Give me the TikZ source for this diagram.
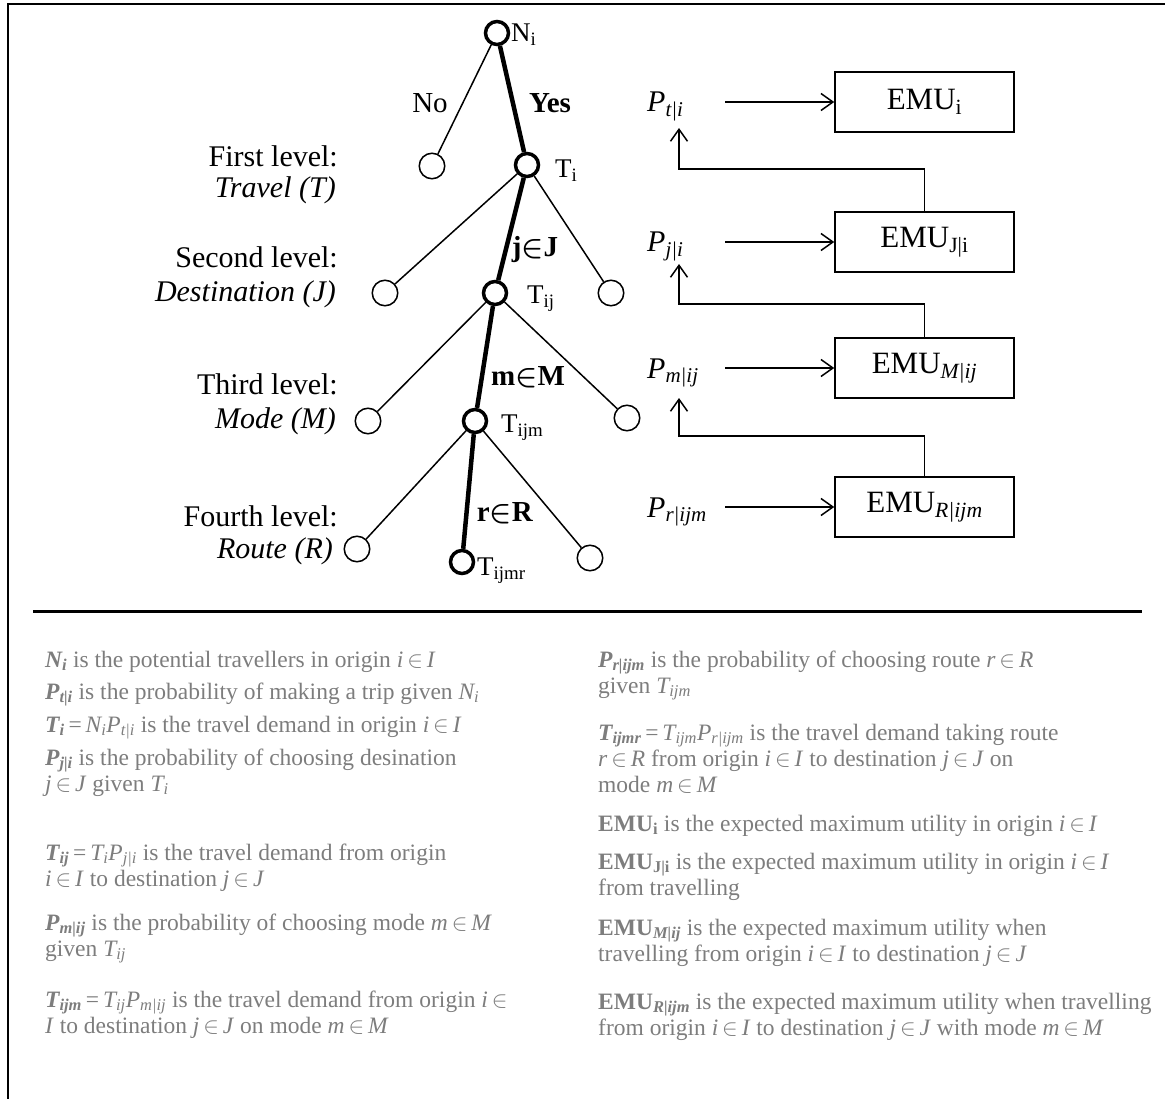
\RequirePackage{fix-cm}
\documentclass[tikz,border=0pt]{standalone}
\usepackage{fontspec}
\setmainfont{Liberation Serif}
\usetikzlibrary{arrows.meta}

\definecolor{legendgray}{RGB}{125,125,125}
\newcommand{\bi}[1]{\textbf{\textit{#1}}}
\newcommand{\sbs}[1]{\textsubscript{#1}}
\newcommand{\elt}{\,$\in$\,}

\begin{document}
\begin{tikzpicture}[x=1pt,y=-1pt,
  hub/.style={circle,draw,fill=white,line width=3.5pt,minimum size=23pt,inner sep=0pt},
  leaf/.style={circle,draw,fill=white,line width=1.5pt,minimum size=25.5pt,inner sep=0pt},
  mainedge/.style={line width=4.5pt},
  sideedge/.style={line width=1.5pt},
  tag/.style={inner sep=0pt,font=\fontsize{27}{30}\selectfont},
  branch/.style={inner sep=0pt,font=\fontsize{29}{32}\selectfont},
  lvl/.style={inner sep=0pt,anchor=base east,font=\fontsize{30}{34}\selectfont},
  emubox/.style={draw,line width=1.5pt,minimum width=179pt,minimum height=60pt,inner sep=0pt,font=\fontsize{31}{34}\selectfont},
  plabel/.style={inner sep=0pt,anchor=base west,font=\fontsize{30}{34}\selectfont},
  feed/.style={line width=1.5pt,-{Straight Barb[length=12pt,width=17pt]}},
  legend/.style={inner sep=0pt,anchor=base west,align=left,text=legendgray,font=\fontsize{23.5}{26}\selectfont}
]
\useasboundingbox (0,0) rectangle (1165,1099);

% frame and separator
\draw[line width=2.7pt] (8,1099) -- (8,4) -- (1165,4);
\draw[line width=3pt] (33,611) -- (1142,611);

% tree nodes
\node[hub]  (Ni)    at (497,33)  {};
\node[hub]  (Ti)    at (527,165) {};
\node[leaf] (no)    at (432,166) {};
\node[hub]  (Tij)   at (495,293) {};
\node[leaf] (jl)    at (385,293) {};
\node[leaf] (jr)    at (611,293) {};
\node[hub]  (Tijm)  at (475,421) {};
\node[leaf] (ml)    at (368,421) {};
\node[leaf] (mr)    at (627,418) {};
\node[hub]  (Tijmr) at (462,562) {};
\node[leaf] (rl)    at (357,549) {};
\node[leaf] (rr)    at (590,558) {};

% tree branches
\draw[sideedge] (Ni) -- (no);
\draw[mainedge] (Ni) -- (Ti);
\draw[sideedge] (Ti) -- (jl);
\draw[mainedge] (Ti) -- (Tij);
\draw[sideedge] (Ti) -- (jr);
\draw[sideedge] (Tij) -- (ml);
\draw[mainedge] (Tij) -- (Tijm);
\draw[sideedge] (Tij) -- (mr);
\draw[sideedge] (Tijm) -- (rl);
\draw[mainedge] (Tijm) -- (Tijmr);
\draw[sideedge] (Tijm) -- (rr);

% node names
\node[tag,anchor=west] (nNi)    at (511,35)  {N\sbs{i}};
\node[tag,anchor=west] (nTi)    at (555,171) {T\sbs{i}};
\node[tag,anchor=west] (nTij)   at (527,299) {T\sbs{ij}};
\node[tag,anchor=west] (nTijm)  at (501,428) {T\sbs{ijm}};
\node[tag,anchor=west] (nTijmr) at (477,571) {T\sbs{ijmr}};

% branch labels
\node[branch] (lno)  at (430,103) {No};
\node[branch] (lyes) at (550,103) {\textbf{Yes}};
\node[branch] (lj)   at (535,250) {\textbf{j}{\boldmath$\in$}\textbf{J}};
\node[branch] (lm)   at (528,377) {\textbf{m}{\boldmath$\in$}\textbf{M}};
\node[branch] (lr)   at (505,513) {\textbf{r}{\boldmath$\in$}\textbf{R}};

% level captions
\node[lvl] (c1a) at (338,167) {First level:};
\node[lvl] (c1b) at (336,198) {\textit{Travel (T)}};
\node[lvl] (c2a) at (338,268) {Second level:};
\node[lvl] (c2b) at (336,302) {\textit{Destination (J)}};
\node[lvl] (c3a) at (338,395) {Third level:};
\node[lvl] (c3b) at (336,428) {\textit{Mode (M)}};
\node[lvl] (c4a) at (338,526) {Fourth level:};
\node[lvl] (c4b) at (333,558) {\textit{Route (R)}};

% expected maximum utility boxes
\node[emubox] (emuI) at (924.5,102) {EMU\sbs{i}};
\node[emubox] (emuJ) at (924.5,242) {EMU\sbs{J|i}};
\node[emubox] (emuM) at (924.5,368) {EMU\sbs{\textit{M|ij}}};
\node[emubox] (emuR) at (924.5,507) {EMU\sbs{\textit{R|ijm}}};

% probabilities
\node[plabel] (pT) at (647,112) {\textit{P}\sbs{\textit{t|i}}};
\node[plabel] (pJ) at (647,252) {\textit{P}\sbs{\textit{j|i}}};
\node[plabel] (pM) at (647,378) {\textit{P}\sbs{\textit{m|ij}}};
\node[plabel] (pR) at (647,517) {\textit{P}\sbs{\textit{r|ijm}}};

\coordinate (sT) at (725,102);
\coordinate (sJ) at (725,242);
\coordinate (sM) at (725,368);
\coordinate (sR) at (725,507);
\draw[feed] (sT) -- (emuI);
\draw[feed] (sJ) -- (emuJ);
\draw[feed] (sM) -- (emuM);
\draw[feed] (sR) -- (emuR);

% feedback from lower levels
\coordinate (bJ) at (679,169);  \coordinate (tJ) at (679,128);
\coordinate (bM) at (679,304);  \coordinate (tM) at (679,264);
\coordinate (bR) at (679,436);  \coordinate (tR) at (679,398);
\draw[feed] (emuJ.north) |- (bJ) -- (tJ);
\draw[feed] (emuM.north) |- (bM) -- (tM);
\draw[feed] (emuR.north) |- (bR) -- (tR);

% legend, left column (each node is placed by the baseline of its last line)
\node[legend] (d1) at (45,667) {\bi{N\sbs{i}} is the potential travellers in origin \textit{i}\elt\textit{I}};
\node[legend] (d2) at (45,699) {\bi{P\sbs{t|i}} is the probability of making a trip given \textit{N\sbs{i}}};
\node[legend] (d3) at (45,732) {\bi{T\sbs{i}}\,=\,\textit{N\sbs{i}P\sbs{t|i}} is the travel demand in origin \textit{i}\elt\textit{I}};
\node[legend] (d4) at (45,791) {\bi{P\sbs{j|i}} is the probability of choosing desination\\\textit{j}\elt\textit{J} given \textit{T\sbs{i}}};
\node[legend] (d5) at (45,886) {\bi{T\sbs{ij}}\,=\,\textit{T\sbs{i}P\sbs{j|i}} is the travel demand from origin\\\textit{i}\elt\textit{I} to destination \textit{j}\elt\textit{J}};
\node[legend] (d6) at (45,956) {\bi{P\sbs{m|ij}} is the probability of choosing mode \textit{m}\elt\textit{M}\\given \textit{T\sbs{ij}}};
\node[legend] (d7) at (45,1033) {\bi{T\sbs{ijm}}\,=\,\textit{T\sbs{ij}P\sbs{m|ij}} is the travel demand from origin \textit{i}\elt\\\textit{I} to destination \textit{j}\elt\textit{J} on mode \textit{m}\elt\textit{M}};

% legend, right column
\node[legend] (e1) at (598,693) {\bi{P\sbs{r|ijm}} is the probability of choosing route \textit{r}\elt\textit{R}\\given \textit{T\sbs{ijm}}};
\node[legend] (e2) at (598,792) {\bi{T\sbs{ijmr}}\,=\,\textit{T\sbs{ijm}P\sbs{r|ijm}} is the travel demand taking route\\\textit{r}\elt\textit{R} from origin \textit{i}\elt\textit{I} to destination \textit{j}\elt\textit{J} on\\mode \textit{m}\elt\textit{M}};
\node[legend] (e3) at (598,831) {\textbf{EMU\sbs{i}} is the expected maximum utility in origin \textit{i}\elt\textit{I}};
\node[legend] (e4) at (598,895) {\textbf{EMU\sbs{J|i}} is the expected maximum utility in origin \textit{i}\elt\textit{I}\\from travelling};
\node[legend] (e5) at (598,961) {\textbf{EMU\sbs{\textit{M|ij}}} is the expected maximum utility when\\travelling from origin \textit{i}\elt\textit{I} to destination \textit{j}\elt\textit{J}};
\node[legend] (e6) at (598,1035) {\textbf{EMU\sbs{\textit{R|ijm}}} is the expected maximum utility when travelling\\from origin \textit{i}\elt\textit{I} to destination \textit{j}\elt\textit{J} with mode \textit{m}\elt\textit{M}};
\end{tikzpicture}
\end{document}
